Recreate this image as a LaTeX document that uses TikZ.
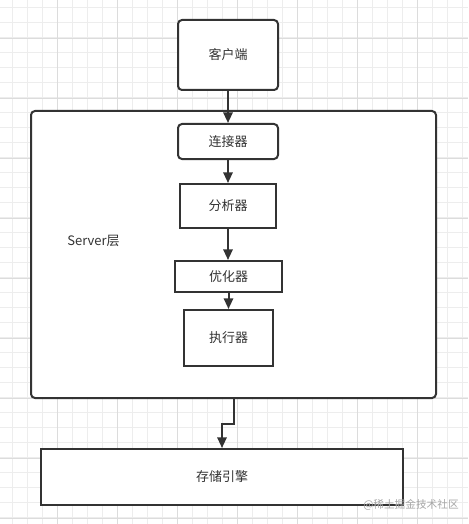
\documentclass[tikz,border=0pt]{standalone}
\usepackage{fontspec}
\setmainfont{Noto Sans CJK SC}
\usepackage{xcolor}
\usetikzlibrary{arrows.meta}

\definecolor{ink}{HTML}{333333}
\definecolor{gridminor}{HTML}{EDEDED}
\definecolor{gridmajor}{HTML}{DCDCDC}
\tikzset{
    box/.style={draw=ink, line width=1.5pt, fill=white, inner sep=0pt,
        font=\fontsize{9.75}{12}\selectfont, text=ink},
    rbox/.style={box, rounded corners=3pt},
    flow/.style={draw=ink, line width=1.5pt, -{Triangle[length=8pt,width=7pt]}},
}

\begin{document}
\begin{tikzpicture}[x=0.75pt, y=-0.75pt]
        \useasboundingbox (0,0) rectangle (468,524);
        \fill[white] (0,0) rectangle (468,524);
        \foreach \i in {0,...,30} {
            \draw[gridminor, line width=0.5pt] (12.7+15*\i,0) -- (12.7+15*\i,524);
        }
        \foreach \i in {0,...,34} {
            \draw[gridminor, line width=0.5pt] (0,7.7+15*\i) -- (468,7.7+15*\i);
        }
        \foreach \i in {0,...,7} {
            \draw[gridmajor, line width=0.5pt] (57.7+60*\i,0) -- (57.7+60*\i,524);
        }
        \foreach \i in {0,...,8} {
            \draw[gridmajor, line width=0.5pt] (0,38.3+60*\i) -- (468,38.3+60*\i);
        }

        \node[rbox, minimum width=303.75pt, minimum height=215.25pt] (server) at (233.5,254.5) {};
        \node[font=\fontsize{9.75}{12}\selectfont, text=ink] (serverlbl) at (93.5,241) {Server层};

        \node[rbox, minimum width=75pt, minimum height=52.5pt] (client) at (228,55) {客户端};
        \node[rbox, minimum width=75pt, minimum height=26.25pt] (conn) at (228,141.5) {连接器};
        \node[box, minimum width=72pt, minimum height=33pt] (parser) at (228,206) {分析器};
        \node[box, minimum width=80.25pt, minimum height=23.25pt] (optim) at (228.5,276.5) {优化器};
        \node[box, minimum width=66.75pt, minimum height=42pt] (exec) at (228.5,338) {执行器};
        \node[box, minimum width=271.5pt, minimum height=42pt] (store) at (222,477) {存储引擎};

        \draw[flow] (client) -- (conn);
        \draw[flow] (conn) -- (parser);
        \draw[flow] (parser.south) -- (parser.south |- optim.north);
        \draw[flow] (optim.south) -- (optim.south |- exec.north);
        \draw[flow] (server.south) -- ++(0,25) -| (store.north);

        \node[font=\fontsize{8}{10}\selectfont, text=black!35] (mark) at (411,505) {@稀土掘金技术社区};
    \end{tikzpicture}
\end{document}
